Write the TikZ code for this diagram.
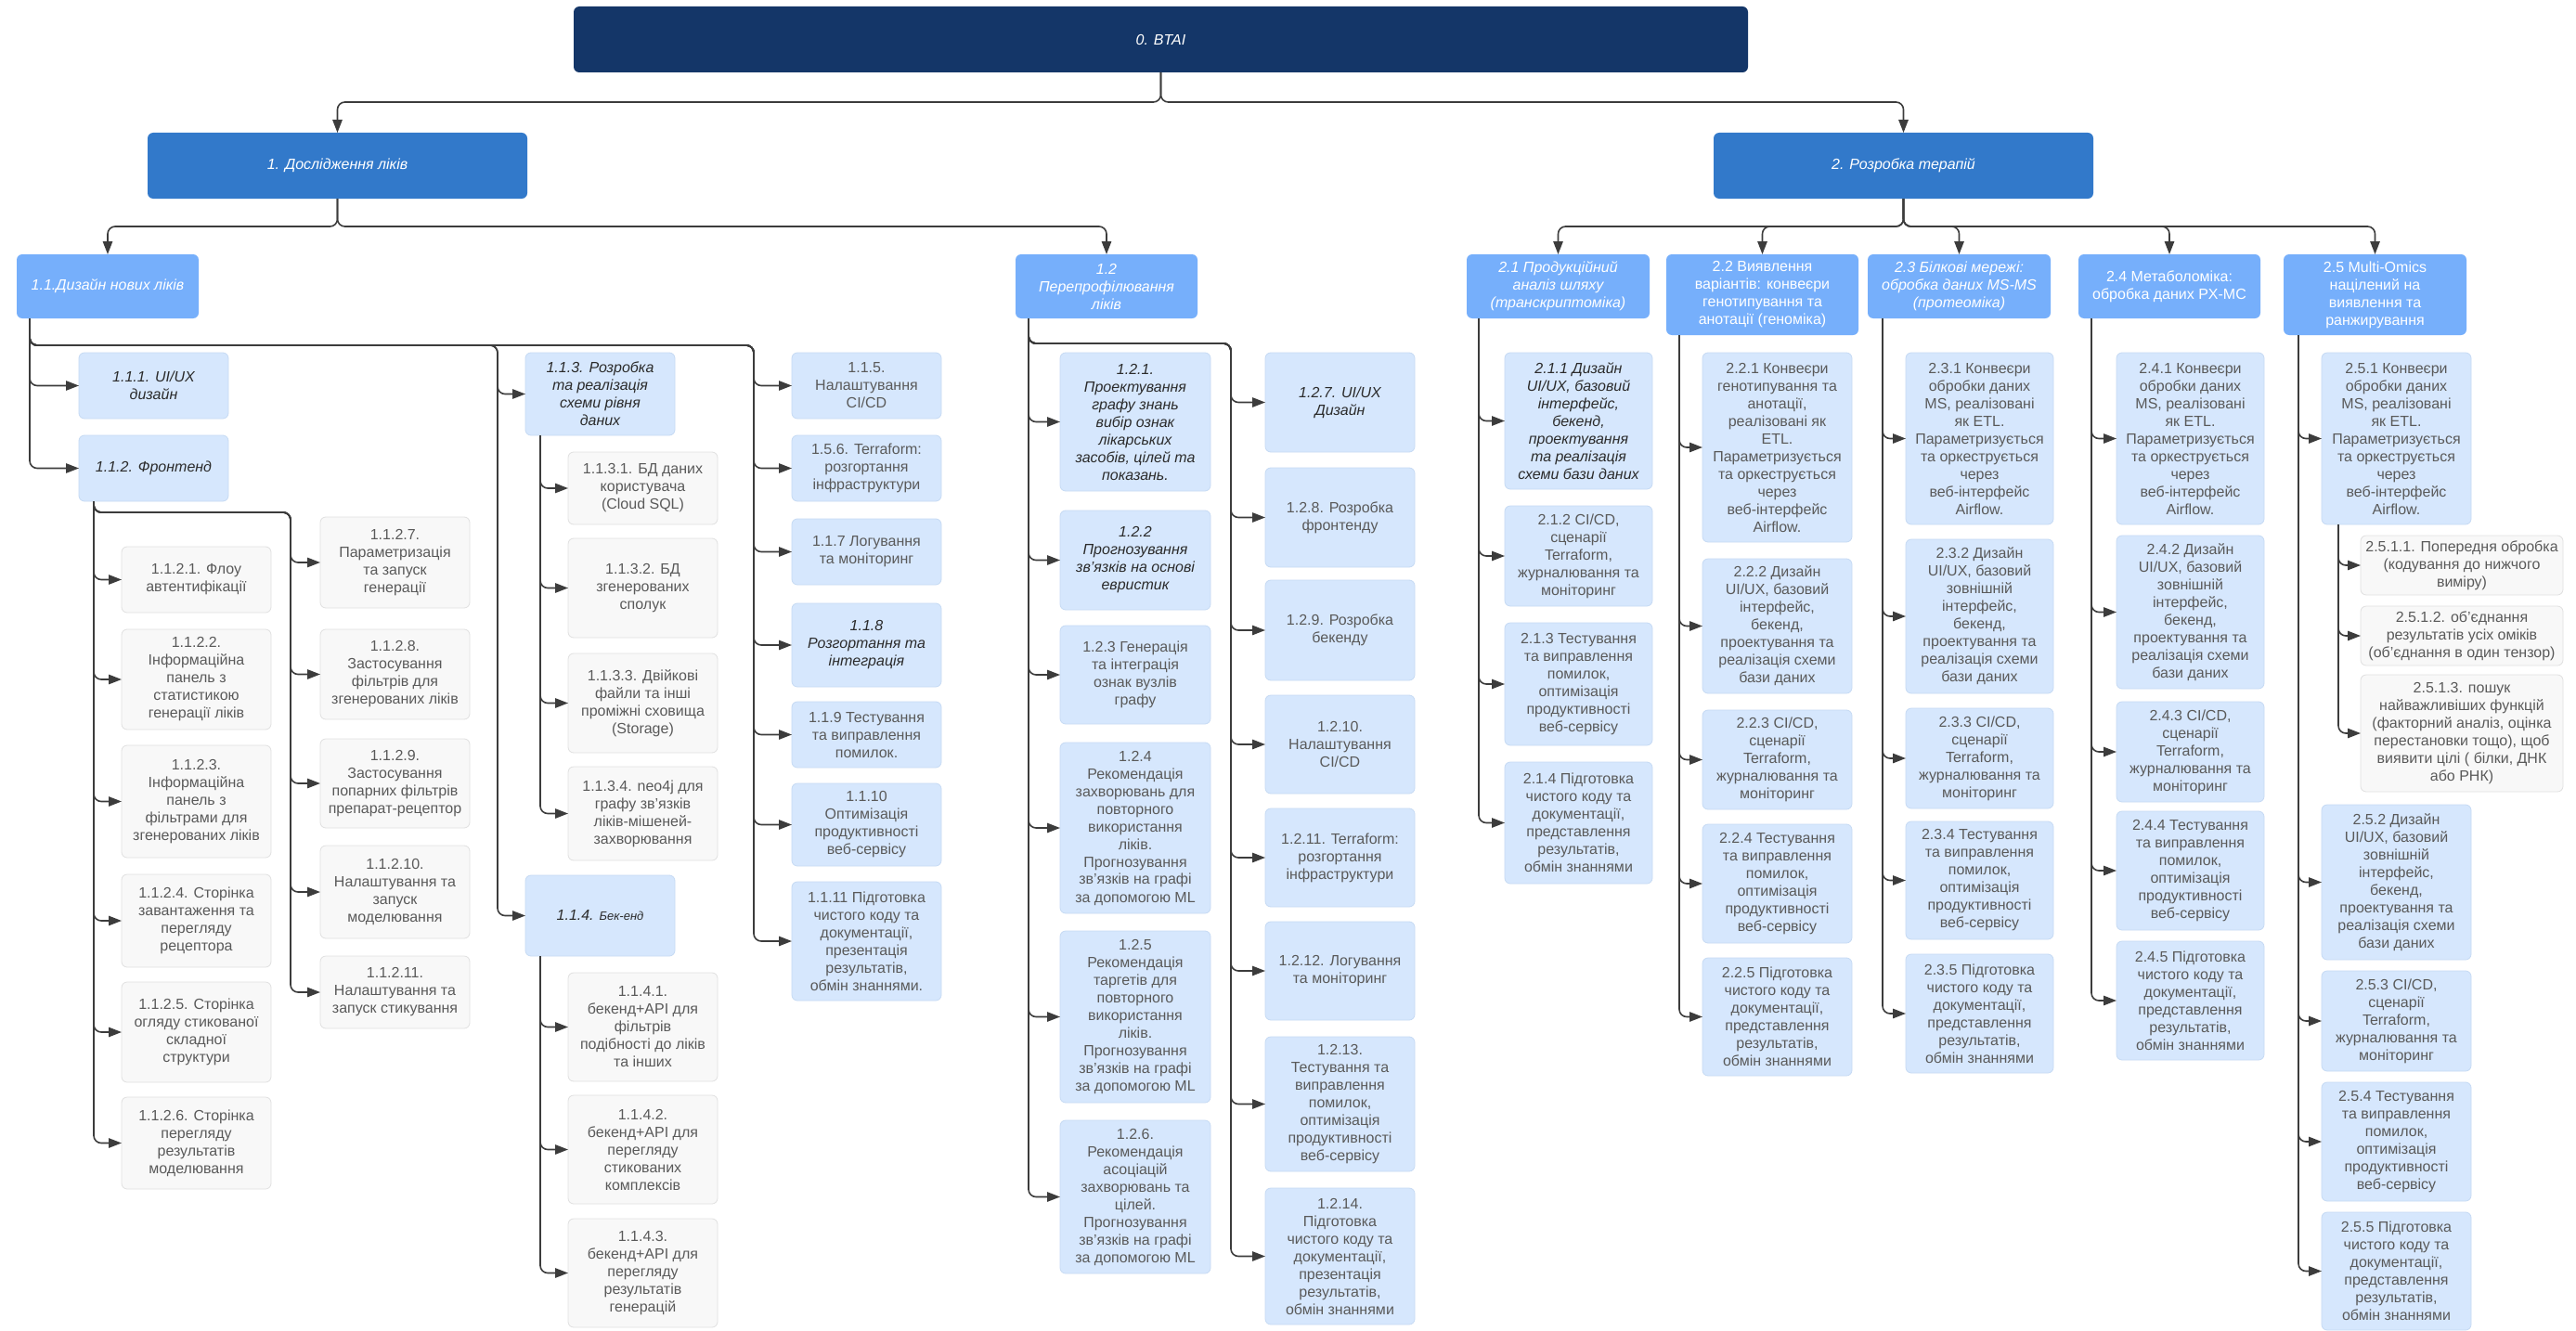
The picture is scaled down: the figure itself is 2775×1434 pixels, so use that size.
\documentclass[tikz,border=0pt]{standalone}
\usepackage{fontspec}
\setmainfont{Liberation Sans}
\usetikzlibrary{arrows.meta,calc}
\definecolor{navy}{HTML}{143668}
\definecolor{midblue}{HTML}{3279CA}
\definecolor{skyblue}{HTML}{76AFFB}
\definecolor{paleblue}{HTML}{D6E7FD}
\definecolor{paleedge}{HTML}{C6DAF4}
\definecolor{leafgray}{HTML}{F8F8F8}
\definecolor{leafedge}{HTML}{E0E0E0}
\definecolor{txtgray}{HTML}{5A5A5A}
\definecolor{txtdark}{HTML}{2B2B2B}
\definecolor{linkgray}{HTML}{3C3C3C}
\newcommand\wbsfont{\fontsize{8}{9.5}\selectfont}
% box from its corners: name, style, x1, y1, x2, y2, text
\newcommand\wbs[7]{%
  \pgfmathsetmacro\wbsw{(#5-#3)/2}%
  \pgfmathsetmacro\wbsh{(#6-#4)/2}%
  \node[#2,minimum width=\wbsw pt,minimum height=\wbsh pt] (#1) at ({(#3+#5)/2},{(#4+#6)/2}) {#7};}
\begin{document}
\begin{tikzpicture}[x=0.5pt,y=-0.5pt,
  base/.style={inner sep=0pt,outer sep=0pt,align=center,rounded corners=3pt,font=\wbsfont},
  rootbox/.style={base,fill=navy,text=white,font=\wbsfont\itshape},
  mainbox/.style={base,fill=midblue,text=white,font=\wbsfont\itshape},
  subbox/.style={base,fill=skyblue,text=white},
  subboxi/.style={subbox,font=\wbsfont\itshape},
  taskbox/.style={base,fill=paleblue,draw=paleedge,line width=0.4pt,text=txtgray},
  keybox/.style={taskbox,text=txtdark,font=\wbsfont\itshape},
  leafbox/.style={base,fill=leafgray,draw=leafedge,line width=0.4pt,text=txtgray},
  link/.style={draw=linkgray,line width=0.8pt,rounded corners=4pt,-{Triangle[length=7pt,width=5.2pt]}}]
\useasboundingbox (0,0) rectangle (2775,1434);
\fill[white] (0,0) rectangle (2775,1434);

\wbs{b0}{rootbox}{618}{7}{1883}{78}{0. BTAI}
\wbs{b1}{mainbox}{159}{143}{568}{214}{1. Дослідження ліків}
\wbs{b2}{mainbox}{1846}{143}{2255}{214}{2. Розробка терапій}
\wbs{b11}{subboxi}{18}{274}{214}{343}{1.1.Дизайн нових ліків}
\wbs{b12}{subboxi}{1094}{274}{1290}{343}{1.2\\Перепрофілювання\\ліків}
\wbs{b21}{subboxi}{1580}{274}{1777}{343}{2.1 Продукційний\\аналіз шляху\\(транскриптоміка)}
\wbs{b22}{subbox}{1795}{274}{2002}{361}{2.2 Виявлення\\варіантів: конвеєри\\генотипування та\\анотації (геноміка)}
\wbs{b23}{subboxi}{2012}{274}{2209}{343}{2.3 Білкові мережі:\\обробка даних MS-MS\\(протеоміка)}
\wbs{b24}{subbox}{2239}{274}{2435}{343}{2.4 Метаболоміка:\\обробка даних PX-MC}
\wbs{b25}{subbox}{2460}{274}{2657}{361}{2.5 Multi-Omics\\націлений на\\виявлення та\\ранжирування}

% 1.1
\wbs{b111}{keybox}{85}{380}{246}{451}{1.1.1. UI/UX\\дизайн}
\wbs{b112}{keybox}{85}{469}{246}{540}{1.1.2. Фронтенд}
\wbs{b1121}{leafbox}{131}{589}{292}{660}{1.1.2.1. Флоу\\автентифікації}
\wbs{b1122}{leafbox}{131}{678}{292}{786}{1.1.2.2.\\Інформаційна\\панель з\\статистикою\\генерації ліків}
\wbs{b1123}{leafbox}{131}{803}{292}{924}{1.1.2.3.\\Інформаційна\\панель з\\фільтрами для\\згенерованих ліків}
\wbs{b1124}{leafbox}{131}{942}{292}{1042}{1.1.2.4. Сторінка\\завантаження та\\перегляду\\рецептора}
\wbs{b1125}{leafbox}{131}{1058}{292}{1166}{1.1.2.5. Сторінка\\огляду стикованої\\складної\\структури}
\wbs{b1126}{leafbox}{131}{1182}{292}{1281}{1.1.2.6. Сторінка\\перегляду\\результатів\\моделювання}
\wbs{b1127}{leafbox}{345}{557}{506}{655}{1.1.2.7.\\Параметризація\\та запуск\\генерації}
\wbs{b1128}{leafbox}{345}{678}{506}{775}{1.1.2.8.\\Застосування\\фільтрів для\\згенерованих ліків}
\wbs{b1129}{leafbox}{345}{796}{506}{892}{1.1.2.9.\\Застосування\\попарних фільтрів\\препарат-рецептор}
\wbs{b11210}{leafbox}{345}{911}{506}{1011}{1.1.2.10.\\Налаштування та\\запуск\\моделювання}
\wbs{b11211}{leafbox}{345}{1030}{506}{1108}{1.1.2.11.\\Налаштування та\\запуск стикування}
\wbs{b113}{keybox}{566}{380}{727}{469}{1.1.3. Розробка\\та реалізація\\схеми рівня\\даних}
\wbs{b114}{keybox}{566}{943}{727}{1030}{1.1.4. {\fontsize{6.5}{8}\selectfont Бек-енд}}
\wbs{b1131}{leafbox}{612}{487}{773}{565}{1.1.3.1. БД даних\\користувача\\(Cloud SQL)}
\wbs{b1132}{leafbox}{612}{580}{773}{687}{1.1.3.2. БД\\згенерованих\\сполук}
\wbs{b1133}{leafbox}{612}{704}{773}{811}{1.1.3.3. Двійкові\\файли та інші\\проміжні сховища\\(Storage)}
\wbs{b1134}{leafbox}{612}{826}{773}{927}{1.1.3.4. neo4j для\\графу зв'язків\\ліків-мішеней-\\захворювання}
\wbs{b1141}{leafbox}{612}{1048}{773}{1165}{1.1.4.1.\\бекенд+API для\\фільтрів\\подібності до ліків\\та інших}
\wbs{b1142}{leafbox}{612}{1180}{773}{1297}{1.1.4.2.\\бекенд+API для\\перегляду\\стикованих\\комплексів}
\wbs{b1143}{leafbox}{612}{1313}{773}{1430}{1.1.4.3.\\бекенд+API для\\перегляду\\результатів\\генерацій}
\wbs{b115}{taskbox}{853}{380}{1014}{451}{1.1.5.\\Налаштування\\CI/CD}
\wbs{b116}{taskbox}{853}{469}{1014}{540}{1.5.6. Terraform:\\розгортання\\інфраструктури}
\wbs{b117}{taskbox}{853}{559}{1014}{630}{1.1.7 Логування\\та моніторинг}
\wbs{b118}{keybox}{853}{650}{1014}{740}{1.1.8\\Розгортання та\\інтеграція}
\wbs{b119}{taskbox}{853}{756}{1014}{827}{1.1.9 Тестування\\та виправлення\\помилок.}
\wbs{b1110}{taskbox}{853}{844}{1014}{933}{1.1.10\\Оптимізація\\продуктивності\\веб-сервісу}
\wbs{b1111}{taskbox}{853}{950}{1014}{1078}{1.1.11 Підготовка\\чистого коду та\\документації,\\презентація\\результатів,\\обмін знаннями.}

% 1.2
\wbs{b121}{keybox}{1142}{380}{1304}{529}{1.2.1.\\Проектування\\графу знань\\вибір ознак\\лікарських\\засобів, цілей та\\показань.}
\wbs{b122}{keybox}{1142}{550}{1304}{657}{1.2.2\\Прогнозування\\зв'язків на основі\\евристик}
\wbs{b123}{taskbox}{1142}{674}{1304}{780}{1.2.3 Генерація\\та інтеграція\\ознак вузлів\\графу}
\wbs{b124}{taskbox}{1142}{800}{1304}{984}{1.2.4\\Рекомендація\\захворювань для\\повторного\\використання\\ліків.\\Прогнозування\\зв'язків на графі\\за допомогою ML}
\wbs{b125}{taskbox}{1142}{1003}{1304}{1188}{1.2.5\\Рекомендація\\таргетів для\\повторного\\використання\\ліків.\\Прогнозування\\зв'язків на графі\\за допомогою ML}
\wbs{b126}{taskbox}{1142}{1207}{1304}{1372}{1.2.6.\\Рекомендація\\асоціацій\\захворювань та\\цілей.\\Прогнозування\\зв'язків на графі\\за допомогою ML}
\wbs{b127}{keybox}{1363}{380}{1524}{487}{1.2.7. UI/UX\\Дизайн}
\wbs{b128}{taskbox}{1363}{504}{1524}{611}{1.2.8. Розробка\\фронтенду}
\wbs{b129}{taskbox}{1363}{625}{1524}{733}{1.2.9. Розробка\\бекенду}
\wbs{b1210}{taskbox}{1363}{749}{1524}{855}{1.2.10.\\Налаштування\\CI/CD}
\wbs{b1211}{taskbox}{1363}{871}{1524}{977}{1.2.11. Terraform:\\розгортання\\інфраструктури}
\wbs{b1212}{taskbox}{1363}{993}{1524}{1099}{1.2.12. Логування\\та моніторинг}
\wbs{b1213}{taskbox}{1363}{1117}{1524}{1262}{1.2.13.\\Тестування та\\виправлення\\помилок,\\оптимізація\\продуктивності\\веб-сервісу}
\wbs{b1214}{taskbox}{1363}{1280}{1524}{1427}{1.2.14.\\Підготовка\\чистого коду та\\документації,\\презентація\\результатів,\\обмін знаннями}

% 2.1 - 2.4
\wbs{b211}{keybox}{1621}{380}{1780}{527}{2.1.1 Дизайн\\UI/UX, базовий\\інтерфейс,\\бекенд,\\проектування\\та реалізація\\схеми бази даних}
\wbs{b212}{taskbox}{1621}{545}{1780}{653}{2.1.2 CI/CD,\\сценарії\\Terraform,\\журналювання та\\моніторинг}
\wbs{b213}{taskbox}{1621}{671}{1780}{803}{2.1.3 Тестування\\та виправлення\\помилок,\\оптимізація\\продуктивності\\веб-сервісу}
\wbs{b214}{taskbox}{1621}{821}{1780}{952}{2.1.4 Підготовка\\чистого коду та\\документації,\\представлення\\результатів,\\обмін знаннями}
\wbs{b221}{taskbox}{1834}{380}{1995}{584}{2.2.1 Конвеєри\\генотипування та\\анотації,\\реалізовані як\\ETL.\\Параметризується\\та оркеструється\\через\\веб-інтерфейс\\Airflow.}
\wbs{b222}{taskbox}{1834}{602}{1995}{747}{2.2.2 Дизайн\\UI/UX, базовий\\інтерфейс,\\бекенд,\\проектування та\\реалізація схеми\\бази даних}
\wbs{b223}{taskbox}{1834}{765}{1995}{872}{2.2.3 CI/CD,\\сценарії\\Terraform,\\журналювання та\\моніторинг}
\wbs{b224}{taskbox}{1834}{888}{1995}{1016}{2.2.4 Тестування\\та виправлення\\помилок,\\оптимізація\\продуктивності\\веб-сервісу}
\wbs{b225}{taskbox}{1834}{1032}{1995}{1159}{2.2.5 Підготовка\\чистого коду та\\документації,\\представлення\\результатів,\\обмін знаннями}
\wbs{b231}{taskbox}{2053}{380}{2212}{565}{2.3.1 Конвеєри\\обробки даних\\MS, реалізовані\\як ETL.\\Параметризується\\та оркеструється\\через\\веб-інтерфейс\\Airflow.}
\wbs{b232}{taskbox}{2053}{581}{2212}{747}{2.3.2 Дизайн\\UI/UX, базовий\\зовнішній\\інтерфейс,\\бекенд,\\проектування та\\реалізація схеми\\бази даних}
\wbs{b233}{taskbox}{2053}{763}{2212}{871}{2.3.3 CI/CD,\\сценарії\\Terraform,\\журналювання та\\моніторинг}
\wbs{b234}{taskbox}{2053}{885}{2212}{1012}{2.3.4 Тестування\\та виправлення\\помилок,\\оптимізація\\продуктивності\\веб-сервісу}
\wbs{b235}{taskbox}{2053}{1028}{2212}{1156}{2.3.5 Підготовка\\чистого коду та\\документації,\\представлення\\результатів,\\обмін знаннями}
\wbs{b241}{taskbox}{2280}{380}{2439}{565}{2.4.1 Конвеєри\\обробки даних\\MS, реалізовані\\як ETL.\\Параметризується\\та оркеструється\\через\\веб-інтерфейс\\Airflow.}
\wbs{b242}{taskbox}{2280}{577}{2439}{742}{2.4.2 Дизайн\\UI/UX, базовий\\зовнішній\\інтерфейс,\\бекенд,\\проектування та\\реалізація схеми\\бази даних}
\wbs{b243}{taskbox}{2280}{756}{2439}{864}{2.4.3 CI/CD,\\сценарії\\Terraform,\\журналювання та\\моніторинг}
\wbs{b244}{taskbox}{2280}{874}{2439}{1002}{2.4.4 Тестування\\та виправлення\\помилок,\\оптимізація\\продуктивності\\веб-сервісу}
\wbs{b245}{taskbox}{2280}{1014}{2439}{1142}{2.4.5 Підготовка\\чистого коду та\\документації,\\представлення\\результатів,\\обмін знаннями}

% 2.5
\wbs{b251}{taskbox}{2501}{380}{2662}{565}{2.5.1 Конвеєри\\обробки даних\\MS, реалізовані\\як ETL.\\Параметризується\\та оркеструється\\через\\веб-інтерфейс\\Airflow.}
\wbs{b2511}{leafbox}{2543}{577}{2761}{641}{2.5.1.1. Попередня обробка\\(кодування до нижчого\\виміру)}
\wbs{b2512}{leafbox}{2543}{653}{2761}{717}{2.5.1.2. об’єднання\\результатів усіх оміків\\(об’єднання в один тензор)}
\wbs{b2513}{leafbox}{2543}{727}{2761}{853}{2.5.1.3. пошук\\найважливіших функцій\\(факторний аналіз, оцінка\\перестановки тощо), щоб\\виявити цілі ( білки, ДНК\\або РНК)}
\wbs{b252}{taskbox}{2501}{867}{2662}{1034}{2.5.2 Дизайн\\UI/UX, базовий\\зовнішній\\інтерфейс,\\бекенд,\\проектування та\\реалізація схеми\\бази даних}
\wbs{b253}{taskbox}{2501}{1046}{2662}{1154}{2.5.3 CI/CD,\\сценарії\\Terraform,\\журналювання та\\моніторинг}
\wbs{b254}{taskbox}{2501}{1166}{2662}{1294}{2.5.4 Тестування\\та виправлення\\помилок,\\оптимізація\\продуктивності\\веб-сервісу}
\wbs{b255}{taskbox}{2501}{1306}{2662}{1433}{2.5.5 Підготовка\\чистого коду та\\документації,\\представлення\\результатів,\\обмін знаннями}

% top levels
\foreach \c in {b1,b2} \draw[link] (b0.south) -- ++(0,32) -| (\c.north);
\foreach \c in {b11,b12} \draw[link] (b1.south) -- ++(0,30) -| (\c.north);
\foreach \c in {b21,b22,b23,b24,b25} \draw[link] (b2.south) -- ++(0,30) -| (\c.north);

% side branches
\coordinate (c113) at (536,372);
\coordinate (c115) at (812,372);
\coordinate (c1127) at (313,552);
\coordinate (c127) at (1326,370);
\foreach \c in {b111,b112} \draw[link] ($(b11.south west)+(14,0)$) |- (\c.west);
\foreach \c in {b113,b114} \draw[link] ($(b11.south west)+(14,0)$) |- (c113) |- (\c.west);
\foreach \c in {b115,b116,b117,b118,b119,b1110,b1111} \draw[link] ($(b11.south west)+(14,0)$) |- (c115) |- (\c.west);
\foreach \c in {b1121,b1122,b1123,b1124,b1125,b1126} \draw[link] ($(b112.south west)+(16,0)$) |- (\c.west);
\foreach \c in {b1127,b1128,b1129,b11210,b11211} \draw[link] ($(b112.south west)+(16,0)$) |- (c1127) |- (\c.west);
\foreach \c in {b1131,b1132,b1133,b1134} \draw[link] ($(b113.south west)+(16,0)$) |- (\c.west);
\foreach \c in {b1141,b1142,b1143} \draw[link] ($(b114.south west)+(16,0)$) |- (\c.west);
\foreach \c in {b121,b122,b123,b124,b125,b126} \draw[link] ($(b12.south west)+(14,0)$) |- (\c.west);
\foreach \c in {b127,b128,b129,b1210,b1211,b1212,b1213,b1214} \draw[link] ($(b12.south west)+(14,0)$) |- (c127) |- (\c.west);
\foreach \c in {b211,b212,b213,b214} \draw[link] ($(b21.south west)+(13,0)$) |- (\c.west);
\foreach \c in {b221,b222,b223,b224,b225} \draw[link] ($(b22.south west)+(14,0)$) |- (\c.west);
\foreach \c in {b231,b232,b233,b234,b235} \draw[link] ($(b23.south west)+(16,0)$) |- (\c.west);
\foreach \c in {b241,b242,b243,b244,b245} \draw[link] ($(b24.south west)+(14,0)$) |- (\c.west);
\foreach \c in {b251,b252,b253,b254,b255} \draw[link] ($(b25.south west)+(16,0)$) |- (\c.west);
\foreach \c in {b2511,b2512,b2513} \draw[link] ($(b251.south west)+(18,0)$) |- (\c.west);
\end{tikzpicture}
\end{document}
